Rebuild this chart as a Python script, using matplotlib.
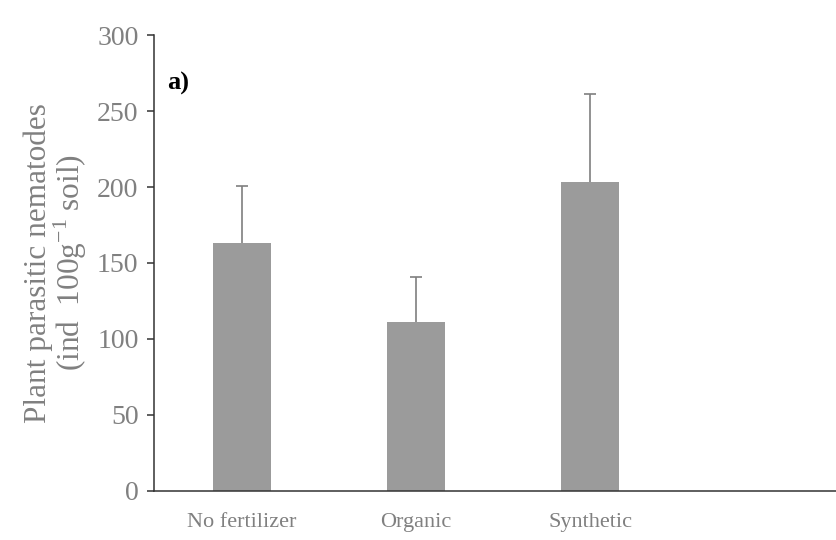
import matplotlib
matplotlib.use("Agg")
import matplotlib.pyplot as plt
import numpy as np

categories = ["No fertilizer", "Organic", "Synthetic"]
means = [163, 111, 203]
errors = [38, 30, 58]
yticks = [0, 50, 100, 150, 200, 250, 300]

plt.rcParams["font.family"] = ["Liberation Serif", "DejaVu Serif"]
plt.rcParams["mathtext.fontset"] = "custom"
plt.rcParams["mathtext.rm"] = "Liberation Serif"

GRAY_TXT = "#808080"

fig = plt.figure(figsize=(8.36, 5.40), dpi=100)
ax = fig.add_axes([0.184, 0.091, 0.816, 0.844])

x = np.arange(len(categories))
ax.bar(x, means, width=0.335, color="#9b9b9b", zorder=2)
ax.errorbar(x, means, yerr=errors, fmt="none", ecolor="#7f7f7f",
            elinewidth=1.2, capsize=4, capthick=1.2, zorder=1)

ax.set_xlim(-0.505, 3.41)
ax.set_ylim(0, 300)
ax.set_yticks(yticks)
ax.set_xticks(x)
ax.set_xticklabels(categories)

for side in ("top", "right"):
    ax.spines[side].set_visible(False)
for side in ("left", "bottom"):
    ax.spines[side].set_color("#333333")
    ax.spines[side].set_linewidth(1.1)

ax.tick_params(axis="y", direction="out", length=5, width=1.1,
               color="#333333", labelsize=20, labelcolor=GRAY_TXT, pad=6)
ax.tick_params(axis="x", length=0, labelsize=16, labelcolor=GRAY_TXT, pad=16)

ax.set_ylabel("Plant parasitic nematodes\n(ind  100g$^{-1}$ soil)",
              fontsize=22.5, color=GRAY_TXT, labelpad=6, linespacing=0.95)

ax.text(0.019, 0.895, "a)", transform=ax.transAxes, fontsize=19,
        fontweight="bold", color="black", va="center")

fig.savefig("out.png", dpi=100)
